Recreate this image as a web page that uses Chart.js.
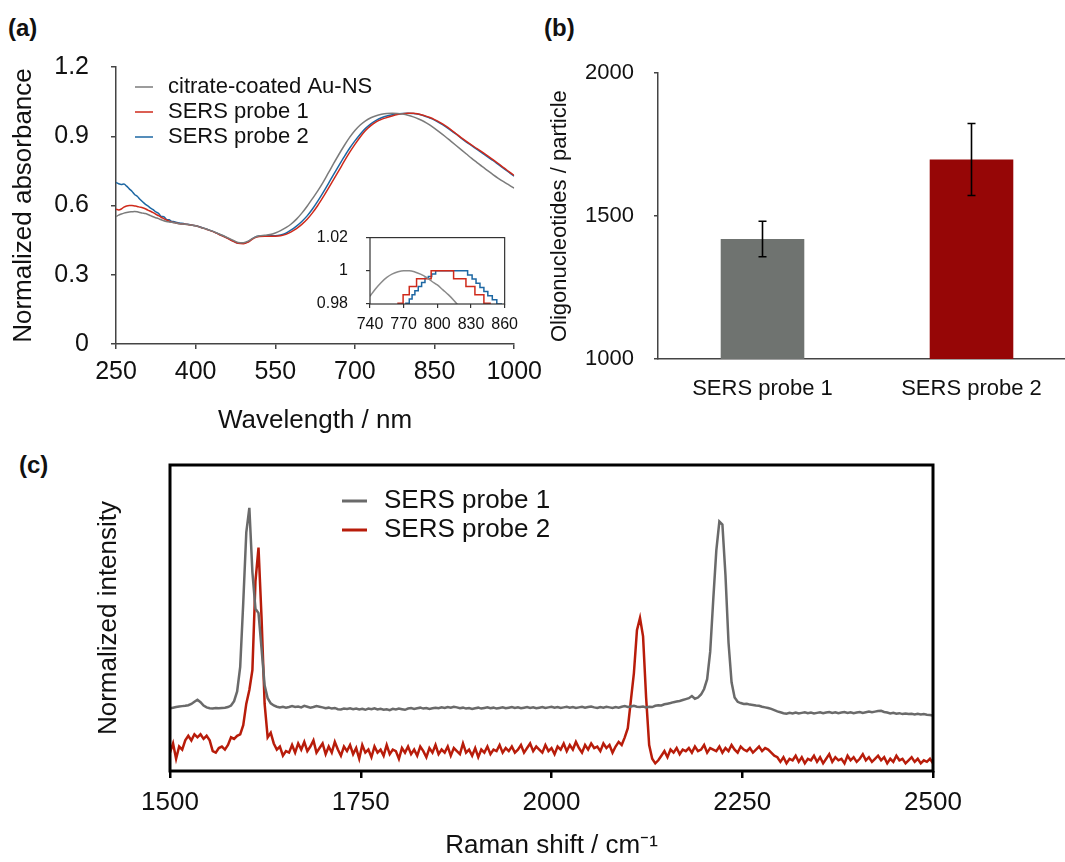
<!DOCTYPE html>
<html>
<head>
<meta charset="utf-8">
<script src="https://cdn.jsdelivr.net/npm/chart.js@4.4.1/dist/chart.umd.min.js"></script>
<style>
  html, body { margin: 0; padding: 0; background: #fff; overflow: hidden; }
  #page { position: relative; width: 1065px; height: 862px; overflow: hidden;
          font-family: "Liberation Sans", Arial, sans-serif; }
  .panel-label { position: absolute; font-weight: bold; font-size: 24px; line-height: 1; color: #111; }
  .box { position: absolute; }
</style>
</head>
<body>
<div id="page">
  <div class="panel-label" style="left:8px; top:16px;">(a)</div>
  <div class="panel-label" style="left:544px; top:16px;">(b)</div>
  <div class="panel-label" style="left:19px; top:453px;">(c)</div>

  <div class="box" style="left:0; top:30px; width:550px; height:410px;"><canvas id="absChart"></canvas></div>
  <div class="box" style="left:300px; top:210px; width:225px; height:130px;"><canvas id="insetChart"></canvas></div>
  <div class="box" style="left:540px; top:40px; width:536px; height:360px;"><canvas id="loadingChart"></canvas></div>
  <div class="box" style="left:0; top:440px; width:1065px; height:422px;"><canvas id="ramanChart"></canvas></div>
</div>

<script>
/* ---------- (a) UV-vis absorbance, normalized ---------- */
const wavelength = [
  250,255,260,265,270,275,280,285,290,295,300,305,310,315,320,325,330,335,340,345,350,355,360,365,370,
  380,390,400,410,420,430,440,450,460,470,
  480,490,500,510,520,530,540,550,560,570,
  580,590,600,610,620,630,640,650,660,670,
  680,690,700,710,720,730,740,750,760,770,
  780,790,800,810,820,830,840,850,860,870,
  880,890,900,910,920,930,940,950,960,970,
  980,990,1000
];
const absCitrate = [
  .552,.558,.563,.567,.570,.572,.573,.574,.573,.570,.567,.565,.561,.556,.551,.547,.543,.538,.534,.531,.529,.527,.525,.523,.521,
  .519,.516,.512,.505,.498,.490,.481,.471,.461,.450,
  .440,.439,.447,.461,.469,.471,.474,.481,.491,.504,
  .520,.541,.567,.597,.630,.663,.700,.741,.782,.822,
  .860,.895,.925,.949,.967,.980,.989,.995,.999,1.000,
  .999,.996,.991,.984,.975,.964,.950,.934,.917,.899,
  .880,.861,.842,.823,.804,.786,.768,.751,.734,.718,
  .703,.689,.675
];
const absProbe1 = [
  .584,.581,.585,.593,.598,.600,.600,.598,.596,.593,.590,.586,.580,.575,.569,.562,.556,.549,.543,.537,.532,.528,.526,.523,.521,
  .519,.516,.512,.505,.497,.489,.479,.469,.458,.446,
  .436,.434,.443,.459,.466,.467,.467,.467,.469,.475,
  .486,.500,.518,.540,.568,.600,.636,.674,.713,.752,
  .792,.830,.865,.897,.925,.946,.962,.973,.981,.988,
  .994,.998,1.000,1.000,.996,.990,.982,.972,.960,.946,
  .930,.912,.894,.878,.862,.846,.831,.815,.799,.782,
  .764,.747,.730
];
const absProbe2 = [
  .700,.694,.691,.693,.684,.672,.662,.648,.640,.627,.616,.606,.598,.589,.582,.572,.566,.553,.551,.540,.538,.531,.530,.526,.524,
  .520,.517,.512,.506,.498,.490,.480,.470,.459,.447,
  .437,.436,.445,.461,.468,.469,.469,.469,.472,.480,
  .494,.511,.531,.555,.585,.619,.656,.695,.735,.774,
  .812,.848,.880,.909,.934,.954,.969,.980,.988,.993,
  .997,.999,1.000,.999,.995,.989,.980,.970,.957,.943,
  .927,.910,.892,.875,.859,.843,.827,.811,.795,.778,
  .761,.744,.727
];

// inset: zoom on the plasmon maximum (probe traces are stepwise in the raw export)
const insetWlCitrate = [740,745,750,755,760,765,770,775,780,785,790,795,800,805,810,815,820];
const insetCitrate   = [.9847,.9892,.9930,.9960,.9981,.9994,1.0,1.0,.9993,.9980,.9962,.9937,.9915,.9885,.9855,.9820,.9780];
const insetWlProbe1  = [740,765,769.5,775,781.5,794.5,814.5,825.5,833.5,841.5,847,860];
const insetProbe1    = [.975,.9805,.9855,.9905,.9952,1.0,.9952,.9905,.9855,.9805,.975,.975];
const insetWlProbe2  = [740,772,775,777.5,780,783,786,789,792,795,798.5,827,831,834.5,838,841.5,845,849,853,857,860];
const insetProbe2    = [.975,.9805,.983,.9855,.988,.9905,.993,.9955,.9965,.998,1.0,.9975,.995,.9925,.99,.9875,.985,.9825,.98,.976,.976];

/* ---------- (b) oligonucleotide loading ---------- */
const probeNames  = ["SERS probe 1", "SERS probe 2"];
const loadingMean = [1420, 1698];
const loadingSD   = [62, 126];

/* ---------- (c) Raman spectra, 4 cm-1 sampling ---------- */
const ramanShift = [
  1500,1504,1508,1512,1516,1520,1524,1528,1532,1536, 1540,1544,1548,1552,1556,1560,1564,1568,1572,1576,
  1580,1584,1588,1592,1596,1600,1604,1608,1612,1616, 1620,1624,1628,1632,1636,1640,1644,1648,1652,1656,
  1660,1664,1668,1672,1676,1680,1684,1688,1692,1696, 1700,1704,1708,1712,1716,1720,1724,1728,1732,1736,
  1740,1744,1748,1752,1756,1760,1764,1768,1772,1776, 1780,1784,1788,1792,1796,1800,1804,1808,1812,1816,
  1820,1824,1828,1832,1836,1840,1844,1848,1852,1856, 1860,1864,1868,1872,1876,1880,1884,1888,1892,1896,
  1900,1904,1908,1912,1916,1920,1924,1928,1932,1936, 1940,1944,1948,1952,1956,1960,1964,1968,1972,1976,
  1980,1984,1988,1992,1996,2000,2004,2008,2012,2016, 2020,2024,2028,2032,2036,2040,2044,2048,2052,2056,
  2060,2064,2068,2072,2076,2080,2084,2088,2092,2096, 2100,2104,2108,2112,2116,2120,2124,2128,2132,2136,
  2140,2144,2148,2152,2156,2160,2164,2168,2172,2176, 2180,2184,2188,2192,2196,2200,2204,2208,2212,2216,
  2220,2224,2228,2232,2236,2240,2244,2248,2252,2256, 2260,2264,2268,2272,2276,2280,2284,2288,2292,2296,
  2300,2304,2308,2312,2316,2320,2324,2328,2332,2336, 2340,2344,2348,2352,2356,2360,2364,2368,2372,2376,
  2380,2384,2388,2392,2396,2400,2404,2408,2412,2416, 2420,2424,2428,2432,2436,2440,2444,2448,2452,2456,
  2460,2464,2468,2472,2476,2480,2484,2488,2492,2496, 2500
];
const ramanProbe1 = [
  .205,.207,.209,.211,.212,.213,.215,.219,.226,.233, .225,.214,.208,.205,.204,.206,.205,.206,.207,.209,
  .214,.228,.26,.34,.55,.78,.86,.65,.53,.516,        .40,.28,.238,.221,.214,.210,.208,.210,.207,.209,
  .212,.209,.211,.208,.213,.210,.207,.209,.212,.210, .208,.205,.207,.204,.206,.202,.201,.204,.203,.205,
  .202,.204,.201,.203,.200,.204,.202,.205,.201,.203, .200,.202,.199,.203,.201,.204,.202,.200,.204,.206,
  .203,.205,.207,.204,.206,.203,.205,.207,.205,.208, .206,.209,.207,.210,.208,.205,.207,.204,.206,.203,
  .205,.207,.204,.206,.208,.205,.207,.204,.206,.208, .205,.207,.209,.206,.208,.205,.207,.209,.206,.208,
  .205,.207,.209,.206,.208,.210,.207,.209,.206,.208, .210,.207,.209,.206,.208,.210,.207,.209,.211,.208,
  .206,.209,.207,.210,.208,.206,.209,.207,.210,.212, .209,.211,.213,.210,.209,.211,.208,.210,.209,.213,
  .215,.214,.218,.220,.222,.225,.227,.229,.232,.235, .238,.245,.236,.240,.250,.268,.300,.390,.560,.720,
  .815,.805,.640,.420,.290,.240,.226,.222,.219,.220, .217,.216,.214,.213,.210,.208,.206,.203,.199,.195,
  .192,.189,.187,.190,.188,.191,.188,.190,.192,.189, .191,.188,.190,.192,.189,.191,.193,.190,.192,.189,
  .191,.193,.190,.192,.189,.191,.193,.190,.192,.194, .192,.194,.196,.197,.193,.191,.188,.190,.187,.189,
  .186,.188,.186,.187,.185,.187,.185,.186,.184,.183, .181
];
const ramanProbe2 = [
  .06,.09,.04,.08,.07,.10,.115,.10,.12,.11,          .12,.105,.115,.10,.065,.06,.075,.08,.07,.085,
  .11,.105,.115,.12,.15,.22,.265,.33,.62,.73,        .50,.22,.11,.125,.09,.07,.08,.05,.065,.06,
  .085,.06,.09,.07,.095,.065,.08,.10,.06,.075,       .09,.055,.08,.06,.095,.07,.05,.08,.065,.085,
  .055,.075,.04,.085,.06,.07,.045,.08,.06,.07,       .05,.085,.055,.07,.065,.04,.075,.06,.08,.055,
  .07,.05,.08,.065,.045,.075,.06,.085,.055,.07,      .06,.08,.05,.075,.065,.055,.09,.06,.07,.05,
  .075,.045,.07,.06,.08,.055,.07,.065,.085,.06,      .075,.065,.08,.06,.07,.085,.06,.075,.09,.065,
  .08,.07,.06,.085,.065,.075,.055,.08,.07,.09,       .065,.085,.07,.095,.075,.06,.085,.07,.09,.075,
  .08,.065,.09,.075,.085,.06,.08,.095,.085,.11,      .14,.23,.32,.46,.50,.44,.24,.085,.04,.025,
  .035,.05,.065,.045,.07,.06,.075,.055,.07,.065,     .075,.06,.08,.065,.07,.085,.06,.075,.07,.065,
  .08,.06,.075,.065,.085,.07,.06,.08,.07,.065,       .075,.06,.07,.08,.065,.075,.07,.06,.05,.045,
  .03,.045,.025,.04,.035,.05,.03,.045,.025,.04,      .035,.05,.03,.045,.025,.04,.055,.03,.045,.035,
  .04,.025,.05,.035,.045,.03,.04,.055,.035,.045,     .03,.04,.05,.035,.045,.025,.04,.03,.05,.035,
  .04,.025,.035,.045,.03,.04,.025,.035,.03,.04,      .025
];

/* -------------------------------------------------- */
const FONT = '"Liberation Sans", Arial, sans-serif';
Chart.defaults.font.family = FONT;
Chart.defaults.color = "#111";
Chart.defaults.animation = false;

function xy(xs, ys) {
  return xs.map((x, i) => ({ x: x, y: ys[i] }));
}

// plain numbers on the axes, no thousands separator, no trailing zeros
const plainTick = v => String(Math.round(v * 100) / 100);

// legend drawn inside the plot: short line + label per dataset
const lineLegend = {
  id: "lineLegend",
  afterDraw(chart, args, opts) {
    const { ctx, chartArea } = chart;
    ctx.save();
    ctx.font = opts.font;
    ctx.textBaseline = "middle";
    ctx.fillStyle = "#111";
    chart.data.datasets.forEach((ds, i) => {
      const x = chartArea.left + opts.left;
      const y = chartArea.top + opts.top + i * opts.rowGap;
      ctx.strokeStyle = ds.borderColor;
      ctx.lineWidth = opts.lineWidth;
      ctx.beginPath();
      ctx.moveTo(x, y);
      ctx.lineTo(x + opts.lineLength, y);
      ctx.stroke();
      ctx.fillText(ds.label, x + opts.textOffset, y);
    });
    ctx.restore();
  }
};

// box around the plot area
const frame = {
  id: "frame",
  afterDatasetsDraw(chart, args, opts) {
    const { ctx, chartArea: a } = chart;
    ctx.save();
    ctx.strokeStyle = opts.color;
    ctx.lineWidth = opts.width;
    ctx.strokeRect(a.left, a.top, a.right - a.left, a.bottom - a.top);
    ctx.restore();
  }
};

// mean +/- SD whiskers on the bars
const errorBars = {
  id: "errorBars",
  afterDatasetsDraw(chart) {
    const { ctx } = chart;
    const y = chart.scales.y;
    const meta = chart.getDatasetMeta(0);
    ctx.save();
    ctx.strokeStyle = "#000";
    ctx.lineWidth = 1.6;
    meta.data.forEach((bar, i) => {
      const top = y.getPixelForValue(loadingMean[i] + loadingSD[i]);
      const bot = y.getPixelForValue(loadingMean[i] - loadingSD[i]);
      const cx = bar.x;
      ctx.beginPath();
      ctx.moveTo(cx, top); ctx.lineTo(cx, bot);
      ctx.moveTo(cx - 4, top); ctx.lineTo(cx + 4, top);
      ctx.moveTo(cx - 4, bot); ctx.lineTo(cx + 4, bot);
      ctx.stroke();
    });
    ctx.restore();
  }
};

/* ---------- chart (a) ---------- */
const GRAY_A = "#7b7b7b", RED_A = "#cf2a1b", BLUE_A = "#1d67a3";

new Chart(document.getElementById("absChart"), {
  type: "line",
  data: {
    datasets: [
      { label: "citrate-coated Au-NS", data: xy(wavelength, absCitrate), borderColor: GRAY_A },
      { label: "SERS probe 1", data: xy(wavelength, absProbe1), borderColor: RED_A },
      { label: "SERS probe 2", data: xy(wavelength, absProbe2), borderColor: BLUE_A }
    ]
  },
  options: {
    responsive: true,
    maintainAspectRatio: false,
    layout: { padding: { top: 25, right: 32, left: 0, bottom: 0 } },
    elements: {
      point: { radius: 0 },
      line: { borderWidth: 1.5, cubicInterpolationMode: "monotone" }
    },
    plugins: {
      legend: { display: false },
      tooltip: { enabled: false },
      lineLegend: { left: 19, top: 20, rowGap: 25, lineLength: 18, textOffset: 33,
                    lineWidth: 1.5, font: "22px " + FONT }
    },
    scales: {
      x: {
        type: "linear", min: 250, max: 1000,
        ticks: { stepSize: 150, font: { size: 25 }, padding: 8, color: "#111", callback: plainTick },
        grid: { drawOnChartArea: false, tickLength: 5, color: "#444", lineWidth: 1.5 },
        border: { color: "#444", width: 1.5 },
        title: { display: true, text: "Wavelength / nm", font: { size: 26 }, color: "#111",
                 padding: { top: 0, bottom: 4 } },
        afterFit: s => { s.height = 96; }
      },
      y: {
        min: 0, max: 1.2,
        ticks: { stepSize: 0.3, font: { size: 25 }, padding: 22, color: "#111", callback: plainTick },
        grid: { drawOnChartArea: false, tickLength: 5, color: "#444", lineWidth: 1.5 },
        border: { color: "#444", width: 1.5 },
        title: { display: true, text: "Normalized absorbance", font: { size: 26 }, color: "#111",
                 padding: { top: 8, bottom: 0 } },
        afterFit: s => { s.width = 116; }
      }
    }
  },
  plugins: [lineLegend]
});

/* ---------- inset of (a) ---------- */
new Chart(document.getElementById("insetChart"), {
  type: "line",
  data: {
    datasets: [
      { data: xy(insetWlCitrate, insetCitrate), borderColor: "#8a8a8a", cubicInterpolationMode: "monotone" },
      { data: xy(insetWlProbe1, insetProbe1), borderColor: RED_A, stepped: "before" },
      { data: xy(insetWlProbe2, insetProbe2), borderColor: BLUE_A, stepped: "before" }
    ]
  },
  options: {
    responsive: true,
    maintainAspectRatio: false,
    layout: { padding: { top: 13, right: 15, left: 0, bottom: 0 } },
    elements: { point: { radius: 0 }, line: { borderWidth: 1.5 } },
    plugins: {
      legend: { display: false },
      tooltip: { enabled: false },
      frame: { color: "#333", width: 1.2 }
    },
    scales: {
      x: {
        type: "linear", min: 740, max: 860,
        ticks: { stepSize: 30, font: { size: 16 }, padding: 7, color: "#111", callback: plainTick },
        grid: { drawOnChartArea: false, tickLength: 4, color: "#333", lineWidth: 1.2 },
        border: { display: false },
        afterFit: s => { s.height = 36; }
      },
      y: {
        min: 0.98, max: 1.02,
        ticks: { stepSize: 0.02, font: { size: 16 }, padding: 18, color: "#111", callback: plainTick },
        grid: { drawOnChartArea: false, tickLength: 4, color: "#333", lineWidth: 1.2 },
        border: { display: false },
        afterFit: s => { s.width = 70; }
      }
    }
  },
  plugins: [frame]
});

/* ---------- chart (b) ---------- */
new Chart(document.getElementById("loadingChart"), {
  type: "bar",
  data: {
    labels: probeNames,
    datasets: [{
      data: loadingMean,
      backgroundColor: ["#6f7370", "#960606"],
      categoryPercentage: 1,
      barPercentage: 0.4
    }]
  },
  options: {
    responsive: true,
    maintainAspectRatio: false,
    layout: { padding: { top: 26, right: 0, left: 0, bottom: 0 } },
    plugins: { legend: { display: false }, tooltip: { enabled: false } },
    scales: {
      x: {
        ticks: { font: { size: 22 }, padding: 9, color: "#111" },
        grid: { display: false },
        border: { color: "#444", width: 1.5 },
        afterFit: s => { s.height = 41; }
      },
      y: {
        min: 1000, max: 2000,
        ticks: { stepSize: 500, font: { size: 22 }, padding: 20, color: "#111", callback: plainTick },
        grid: { drawOnChartArea: false, tickLength: 4, color: "#444", lineWidth: 1.5 },
        border: { color: "#444", width: 1.5 },
        title: { display: true, text: "Oligonucleotides / particle", font: { size: 22 }, color: "#111",
                 padding: { top: 7, bottom: 0 } },
        afterFit: s => { s.width = 118; }
      }
    }
  },
  plugins: [errorBars]
});

/* ---------- chart (c) ---------- */
new Chart(document.getElementById("ramanChart"), {
  type: "line",
  data: {
    datasets: [
      { label: "SERS probe 1", data: xy(ramanShift, ramanProbe1), borderColor: "#6a6a6a" },
      { label: "SERS probe 2", data: xy(ramanShift, ramanProbe2), borderColor: "#b81c0a" }
    ]
  },
  options: {
    responsive: true,
    maintainAspectRatio: false,
    layout: { padding: { top: 25, right: 132, left: 0, bottom: 0 } },
    elements: { point: { radius: 0 }, line: { borderWidth: 2.5, tension: 0 } },
    plugins: {
      legend: { display: false },
      tooltip: { enabled: false },
      frame: { color: "#000", width: 3 },
      lineLegend: { left: 172, top: 36, rowGap: 29, lineLength: 25, textOffset: 42,
                    lineWidth: 3, font: "26px " + FONT }
    },
    scales: {
      x: {
        type: "linear", min: 1500, max: 2500,
        ticks: { stepSize: 250, font: { size: 26 }, padding: 9, color: "#111", callback: plainTick },
        grid: { drawOnChartArea: false, tickLength: 7, color: "#000", lineWidth: 2.5 },
        border: { display: false },
        title: { display: true, text: "Raman shift / cm\u207B\u00B9", font: { size: 26 }, color: "#111",
                 padding: { top: 0, bottom: 1 } },
        afterFit: s => { s.height = 91; }
      },
      y: {
        min: 0, max: 1,
        ticks: { display: false },
        grid: { display: false },
        border: { display: false },
        title: { display: true, text: "Normalized intensity", font: { size: 26 }, color: "#111",
                 padding: { top: 93, bottom: 0 } },
        afterFit: s => { s.width = 170; }
      }
    }
  },
  plugins: [frame, lineLegend]
});
</script>
</body>
</html>
